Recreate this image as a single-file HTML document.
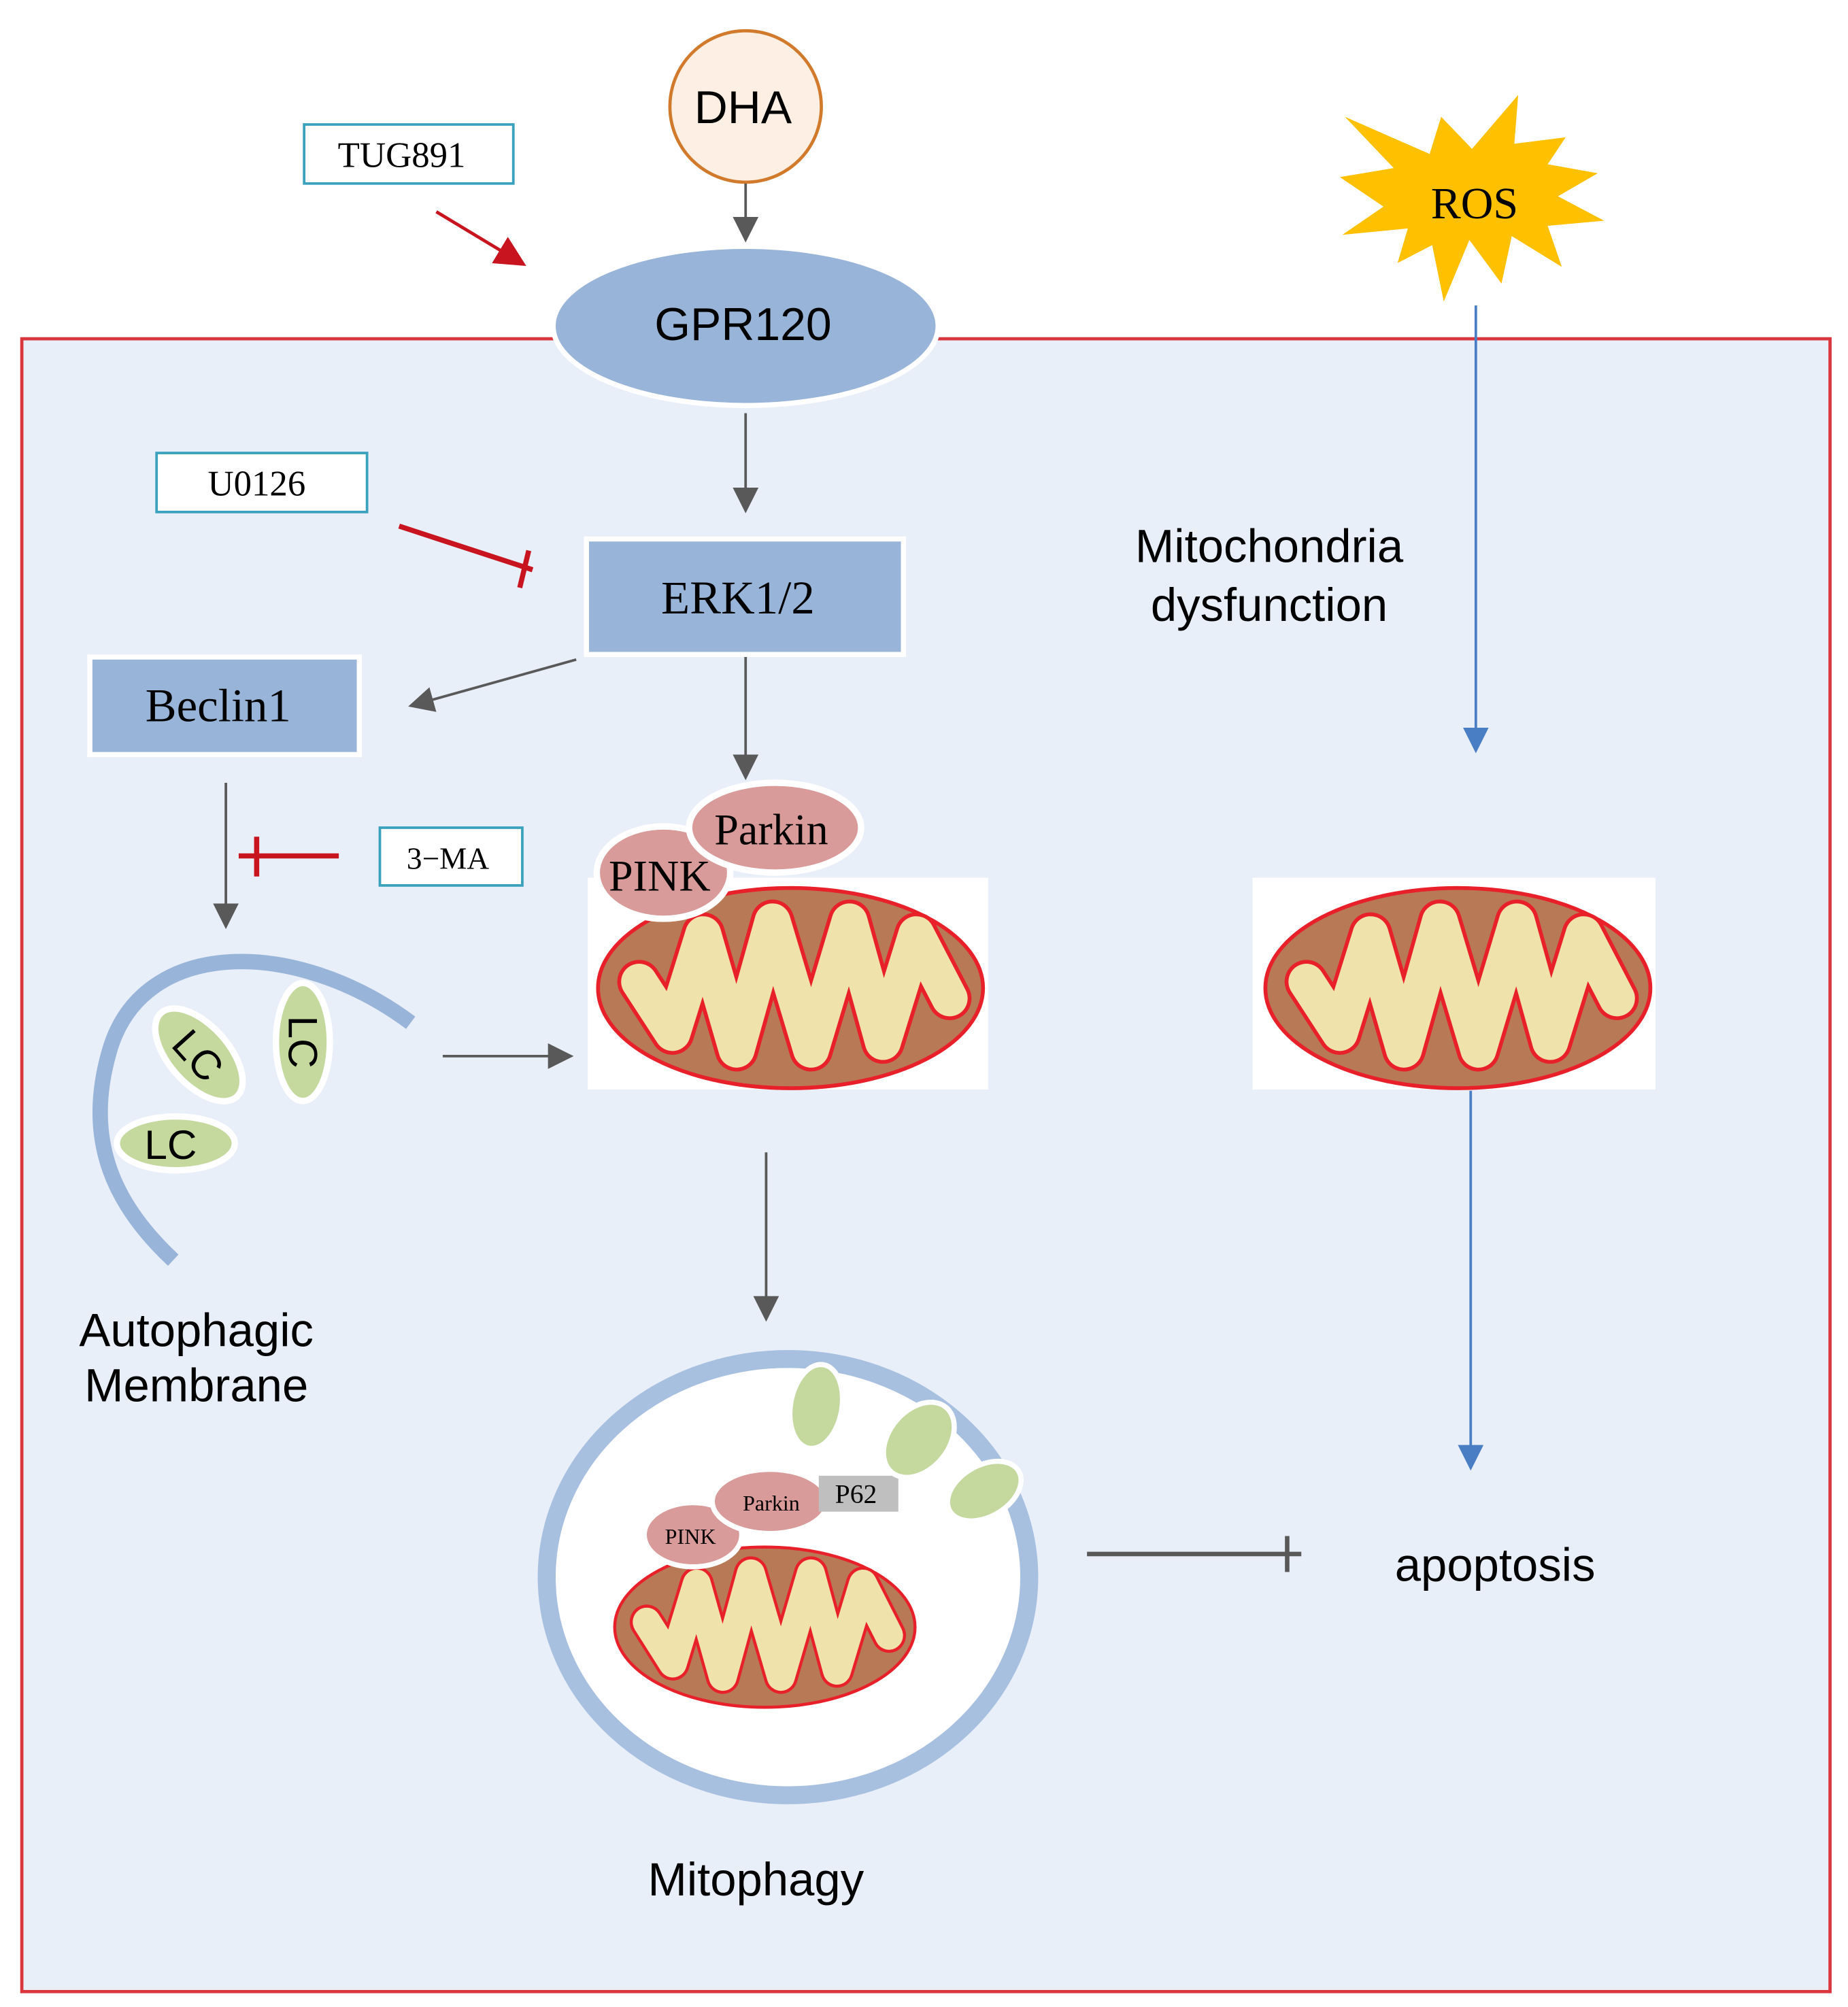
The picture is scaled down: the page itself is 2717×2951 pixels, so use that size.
<!DOCTYPE html>
<html><head><meta charset="utf-8"><style>html,body{margin:0;padding:0;background:#fff}svg{display:block}</style></head>
<body>
<svg xmlns="http://www.w3.org/2000/svg" width="2717" height="2951" viewBox="0 0 1440 1564" preserveAspectRatio="none">
<defs>
<marker id="agb" viewBox="0 0 10 10" refX="9" refY="5" markerWidth="20" markerHeight="20" markerUnits="userSpaceOnUse" orient="auto"><path d="M0,0 L10,5 L0,10z" fill="#595959"/></marker>
<marker id="ab" viewBox="0 0 10 10" refX="9" refY="5" markerWidth="20" markerHeight="20" markerUnits="userSpaceOnUse" orient="auto"><path d="M0,0 L10,5 L0,10z" fill="#4a7ec4"/></marker>
<marker id="ar" viewBox="0 0 10 10" refX="9" refY="5" markerWidth="24" markerHeight="24" markerUnits="userSpaceOnUse" orient="auto"><path d="M0,0 L10,5 L0,10z" fill="#c8141e"/></marker>
<g id="mito">
<ellipse cx="0" cy="0" rx="150" ry="78" fill="#b87a56" stroke="#e8202a" stroke-width="3"/>
<polyline points="-118,-5 -92,35 -68,-42 -42,48 -14,-52 16,48 46,-52 72,42 98,-42 124,8" fill="none" stroke="#e8202a" stroke-width="34" stroke-linejoin="round" stroke-linecap="round"/>
<polyline points="-118,-5 -92,35 -68,-42 -42,48 -14,-52 16,48 46,-52 72,42 98,-42 124,8" fill="none" stroke="#efe3ab" stroke-width="28" stroke-linejoin="round" stroke-linecap="round"/>
</g>
</defs>
<rect x="17" y="264" width="1409" height="1288" fill="#e9eff8" stroke="#d9363e" stroke-width="2.5"/>

<ellipse cx="581" cy="83" rx="59" ry="59" fill="#fdefe3" stroke="#d27a2c" stroke-width="2.5"/>
<text x="579" y="96" font-family="Liberation Sans, sans-serif" font-size="36" text-anchor="middle">DHA</text>
<line x1="581" y1="143" x2="581" y2="187" stroke="#595959" stroke-width="2" marker-end="url(#agb)"/>

<rect x="237" y="97" width="163" height="46" fill="#fff" stroke="#3aa2bd" stroke-width="2"/>
<text x="313" y="130" font-family="Liberation Serif, serif" font-size="28" text-anchor="middle">TUG891</text>
<line x1="340" y1="165" x2="408" y2="206" stroke="#c8141e" stroke-width="2.5" marker-end="url(#ar)"/>

<ellipse cx="581" cy="254" rx="150" ry="62" fill="#99b4d9" stroke="#fff" stroke-width="4"/>
<text x="579" y="265" font-family="Liberation Sans, sans-serif" font-size="36" text-anchor="middle">GPR120</text>
<line x1="581" y1="322" x2="581" y2="398" stroke="#595959" stroke-width="2" marker-end="url(#agb)"/>

<rect x="122" y="353" width="164" height="46" fill="#fff" stroke="#3aa2bd" stroke-width="2"/>
<text x="200" y="386" font-family="Liberation Serif, serif" font-size="28" text-anchor="middle">U0126</text>
<line x1="311" y1="410" x2="415" y2="444" stroke="#c8141e" stroke-width="4"/>
<line x1="412" y1="429" x2="405" y2="458" stroke="#c8141e" stroke-width="4"/>

<rect x="457" y="420" width="247" height="90" fill="#99b4d9" stroke="#fff" stroke-width="4"/>
<text x="575" y="478" font-family="Liberation Serif, serif" font-size="36.5" text-anchor="middle">ERK1/2</text>
<line x1="449" y1="514" x2="320" y2="550" stroke="#595959" stroke-width="2" marker-end="url(#agb)"/>
<line x1="581" y1="512" x2="581" y2="606" stroke="#595959" stroke-width="2" marker-end="url(#agb)"/>

<rect x="70" y="512" width="210" height="76" fill="#99b4d9" stroke="#fff" stroke-width="4"/>
<text x="170" y="562" font-family="Liberation Serif, serif" font-size="36.5" text-anchor="middle">Beclin1</text>
<line x1="176" y1="610" x2="176" y2="722" stroke="#595959" stroke-width="2" marker-end="url(#agb)"/>
<line x1="186" y1="667" x2="264" y2="667" stroke="#c8141e" stroke-width="4"/>
<line x1="200" y1="652" x2="200" y2="683" stroke="#c8141e" stroke-width="4"/>
<rect x="296" y="645" width="111" height="45" fill="#fff" stroke="#3aa2bd" stroke-width="2"/>
<text x="349" y="677" font-family="Liberation Serif, serif" font-size="24" text-anchor="middle">3−MA</text>

<path d="M320,797 C230,730 110,730 85,820 C65,890 90,940 135,982" fill="none" stroke="#99b4d9" stroke-width="12"/>
<ellipse cx="155" cy="822" rx="44" ry="23" transform="rotate(48 155 822)" fill="#c5d99f" stroke="#fff" stroke-width="5"/>
<text x="155" y="834" font-family="Liberation Sans, sans-serif" font-size="32" text-anchor="middle" transform="rotate(48 155 822)">LC</text>
<ellipse cx="236" cy="812" rx="21" ry="46" fill="#c5d99f" stroke="#fff" stroke-width="5"/>
<text x="236" y="823" font-family="Liberation Sans, sans-serif" font-size="32" text-anchor="middle" transform="rotate(90 236 812)">LC</text>
<ellipse cx="137" cy="891" rx="46" ry="21" fill="#c5d99f" stroke="#fff" stroke-width="5"/>
<text x="133" y="903" font-family="Liberation Sans, sans-serif" font-size="32" text-anchor="middle">LC</text>
<text x="153" y="1049" font-family="Liberation Sans, sans-serif" font-size="36.5" text-anchor="middle">Autophagic</text>
<text x="153" y="1092" font-family="Liberation Sans, sans-serif" font-size="36.5" text-anchor="middle">Membrane</text>
<line x1="345" y1="823" x2="445" y2="823" stroke="#595959" stroke-width="2" marker-end="url(#agb)"/>

<rect x="458" y="684" width="312" height="165" fill="#fff"/>
<use href="#mito" transform="translate(616,770)"/>
<ellipse cx="517" cy="680" rx="52" ry="36" fill="#d99a9a" stroke="#fff" stroke-width="5"/>
<ellipse cx="604" cy="645" rx="67" ry="35" fill="#d99a9a" stroke="#fff" stroke-width="5"/>
<text x="601" y="658" font-family="Liberation Serif, serif" font-size="34" text-anchor="middle">Parkin</text>
<text x="514" y="694" font-family="Liberation Serif, serif" font-size="34" text-anchor="middle">PINK</text>
<line x1="597" y1="898" x2="597" y2="1028" stroke="#595959" stroke-width="2" marker-end="url(#agb)"/>

<ellipse cx="614" cy="1229" rx="188" ry="170" fill="#fff" stroke="#a8c0e0" stroke-width="14"/>
<use href="#mito" transform="translate(596,1268) scale(0.78,0.8)"/>
<ellipse cx="540" cy="1196" rx="38" ry="25" fill="#d99a9a" stroke="#fff" stroke-width="4"/>
<ellipse cx="600" cy="1170" rx="45" ry="25" fill="#d99a9a" stroke="#fff" stroke-width="4"/>
<text x="601" y="1177" font-family="Liberation Serif, serif" font-size="17" text-anchor="middle">Parkin</text>
<text x="538" y="1203" font-family="Liberation Serif, serif" font-size="17" text-anchor="middle">PINK</text>
<rect x="638" y="1150" width="62" height="28" fill="#bfbfbf"/>
<text x="667" y="1171" font-family="Liberation Serif, serif" font-size="21" text-anchor="middle">P62</text>
<ellipse cx="636" cy="1096" rx="20" ry="33" transform="rotate(10 636 1096)" fill="#c5d99f" stroke="#fff" stroke-width="4"/>
<ellipse cx="716" cy="1122" rx="23" ry="33" transform="rotate(40 716 1122)" fill="#c5d99f" stroke="#fff" stroke-width="4"/>
<ellipse cx="767" cy="1162" rx="31" ry="20" transform="rotate(-30 767 1162)" fill="#c5d99f" stroke="#fff" stroke-width="4"/>
<text x="589" y="1477" font-family="Liberation Sans, sans-serif" font-size="36.5" text-anchor="middle">Mitophagy</text>

<line x1="847" y1="1211" x2="1014" y2="1211" stroke="#595959" stroke-width="3.5"/>
<line x1="1003" y1="1197" x2="1003" y2="1225" stroke="#595959" stroke-width="3.5"/>
<text x="1165" y="1232" font-family="Liberation Sans, sans-serif" font-size="36.5" text-anchor="middle">apoptosis</text>

<polygon points="1048,91 1114,120 1123,91 1147,116 1183,74 1180,112 1220,107 1206,128 1245,135 1214,153 1250,172 1206,176 1217,208 1178,184 1170,221 1145,187 1125,235 1116,191 1089,205 1097,178 1046,183 1078,161 1044,138 1086,131" fill="#ffc000"/>
<text x="1149" y="170" font-family="Liberation Serif, serif" font-size="35" text-anchor="middle">ROS</text>
<line x1="1150" y1="238" x2="1150" y2="585" stroke="#4a7ec4" stroke-width="2" marker-end="url(#ab)"/>
<text x="989" y="438" font-family="Liberation Sans, sans-serif" font-size="36.5" text-anchor="middle">Mitochondria</text>
<text x="989" y="484" font-family="Liberation Sans, sans-serif" font-size="36.5" text-anchor="middle">dysfunction</text>

<rect x="976" y="684" width="314" height="165" fill="#fff"/>
<use href="#mito" transform="translate(1136,770)"/>
<line x1="1146" y1="850" x2="1146" y2="1144" stroke="#4a7ec4" stroke-width="2" marker-end="url(#ab)"/>
</svg>
</body></html>
